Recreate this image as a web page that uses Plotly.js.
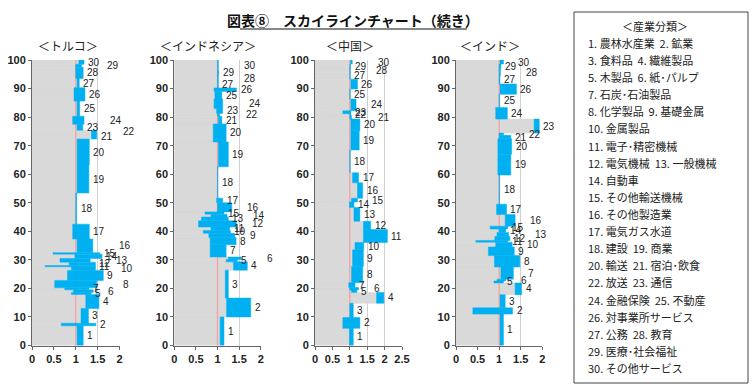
<!DOCTYPE html>
<html><head><meta charset="utf-8">
<script src="https://cdn.plot.ly/plotly-3.0.1.min.js"></script>
<style>html,body{margin:0;padding:0;background:#fff}#chart{width:756px;height:388px}</style>
</head><body><div id="chart"></div>
<script>
// ---- data ----
const industryNo = [1,2,3,4,5,6,7,8,9,10,11,12,13,14,15,16,17,18,19,20,21,22,23,24,25,26,27,28,29,30];
const panelTitles = ['＜トルコ＞','＜インドネシア＞','＜中国＞','＜インド＞'];
const chartTitle = '図表⑧　スカイラインチャート（続き）';

// share of domestic production (%), self-sufficiency ratio (gray end), 1 + export ratio (blue end)
const turkeyShare = [6.9,0.9,5.2,4.9,0.7,0.9,0.7,2.6,3.5,1.3,0.4,1.2,1.3,1.5,0.5,4.8,5.2,10.9,9.8,9.1,1.9,1.2,2.1,2.8,5.3,4.7,3.2,4.0,1.0,1.5];
const turkeySelf  = [1.03,0.67,1.12,1.23,0.90,0.95,0.75,0.52,0.81,0.90,0.30,0.85,0.64,0.98,0.48,1.03,0.93,1.00,1.03,1.03,1.36,1.36,1.03,0.93,1.03,0.96,1.03,1.00,1.00,1.07];
const turkeyGross = [1.17,1.46,1.29,1.53,1.35,1.40,1.30,1.48,1.63,1.45,1.45,1.45,1.33,1.60,1.55,1.39,1.31,1.02,1.30,1.31,1.48,1.48,1.16,1.19,1.09,1.21,1.08,1.17,1.13,1.19];

const indonesiaShare = [10,6.6,9.8,2.9,0.8,0.9,4.3,2.5,1.5,1.0,1.2,2.2,1.3,1.0,0.8,3.2,1.6,11,8.7,6.3,2.7,1.0,1.7,3.3,2.7,1.2,2.3,2.3,1.4,3.8];
const indonesiaSelf  = [1.06,1.21,1.18,1.37,1.20,1.25,0.83,0.83,0.80,0.67,0.85,0.56,0.63,0.85,0.71,1.00,0.98,1.00,1.02,0.90,1.02,1.00,0.98,0.92,0.94,0.92,1.00,1.00,1.00,1.00];
const indonesiaGross = [1.15,1.77,1.25,1.69,1.46,1.55,1.20,1.43,1.40,1.30,1.28,1.44,1.25,1.22,1.15,1.33,1.12,1.01,1.25,1.20,1.10,1.05,1.12,1.12,1.10,1.44,1.02,1.02,1.03,1.02];

const chinaShare = [6,3.8,5,3.8,0.8,0.9,1.7,5.7,5.8,2.6,4.5,2.9,4.8,2.0,1.3,5.4,3.5,8,6.7,4.1,1.2,0.7,1.0,4.1,3.5,3.5,2.2,1.7,1.4,1.4];
const chinaSelf  = [0.99,0.80,1.00,1.77,1.05,1.00,0.97,1.05,1.08,1.15,1.39,1.39,1.12,0.99,1.05,1.22,1.08,1.00,1.03,1.03,1.00,1.00,0.80,1.03,1.00,1.03,1.00,1.00,1.00,1.02];
const chinaGross = [1.10,1.29,1.10,1.98,1.20,1.25,1.15,1.37,1.39,1.40,2.08,1.60,1.29,1.12,1.22,1.37,1.25,1.01,1.27,1.29,1.05,1.03,1.03,1.18,1.01,1.22,1.01,1.01,1.02,1.07];

const indiaShare = [11,2.2,4.6,4.1,0.7,0.6,4.3,4.0,3.0,1.7,0.6,1.4,1.4,1.2,1.0,4.1,3.6,10.2,7.3,5.4,1.2,0.8,4.9,4.1,4.6,3.6,2.9,2.5,1.6,1.4];
const indiaSelf  = [1.02,0.39,1.02,1.37,0.88,0.95,1.04,0.89,0.75,0.92,0.46,0.90,0.95,1.00,0.79,1.14,0.94,1.00,0.97,0.97,1.00,1.00,1.81,0.92,1.00,1.02,1.00,1.00,1.00,1.02];
const indiaGross = [1.10,1.31,1.14,1.52,1.10,1.15,1.33,1.48,1.35,1.30,1.20,1.25,1.22,1.15,1.20,1.37,1.17,1.01,1.27,1.29,1.27,1.10,1.93,1.19,1.01,1.40,1.02,1.03,1.04,1.10];

const xMax = [2, 2, 2.5, 2];
const refRatio = 1;

const legendLines = [
 '1. 農林水産業  2. 鉱業','3. 食料品  4. 繊維製品','5. 木製品  6. 紙･パルプ','7. 石炭･石油製品',
 '8. 化学製品  9. 基礎金属','10. 金属製品','11. 電子･精密機械','12. 電気機械  13. 一般機械',
 '14. 自動車','15. その他輸送機械','16. その他製造業','17. 電気ガス水道','18. 建設  19. 商業',
 '20. 輸送  21. 宿泊･飲食','22. 放送  23. 通信','24. 金融保険  25. 不動産','26. 対事業所サービス',
 '27. 公務  28. 教育','29. 医療･社会福祉','30. その他サービス'];
const legendTitle = '＜産業分類＞';

// ---- layout helpers ----
const W = 756, H = 388;
const panels = [
  {share: turkeyShare, self: turkeySelf, gross: turkeyGross, px: [32, 119.5]},
  {share: indonesiaShare, self: indonesiaSelf, gross: indonesiaGross, px: [174.3, 260.7]},
  {share: chinaShare, self: chinaSelf, gross: chinaGross, px: [315, 402]},
  {share: indiaShare, self: indiaSelf, gross: indiaGross, px: [456, 542.3]}
];
const titleX = [68, 208, 350, 490];
const plotTopPx = 60, plotBotPx = 345.5;
const yDom = [1 - plotBotPx/H, 1 - plotTopPx/H];
const GRAY = '#d9d9d9', BLUE = '#00b0f0', RED = '#f3a3a3';
const numFont = 'Liberation Sans, Arial, sans-serif';
const jpFont = 'Noto Sans CJK JP, sans-serif';

const data = [];
const layout = {
  width: W, height: H, margin: {l:0, r:0, t:0, b:0},
  paper_bgcolor: '#fff', plot_bgcolor: '#fff',
  barmode: 'overlay', showlegend: false, hovermode: false,
  annotations: [], shapes: []
};

// pixel shift of each number label right of its bar, stepping right when labels would collide
function labelShifts(gross, centers, pxPerX, pxPerY) {
  const placed = [];
  return gross.map((g, k) => {
    const w = String(industryNo[k]).length * 5.6 + 2;
    const y = centers[k] * pxPerY;
    let chosen = 3;
    for (const off of [3, 14, 25]) {
      const x0 = g * pxPerX + off;
      const hit = placed.some(b => Math.abs(b.y - y) < 8 && x0 < b.x1 && x0 + w > b.x0);
      if (!hit) { chosen = off; break; }
    }
    placed.push({x0: g * pxPerX + chosen, x1: g * pxPerX + chosen + w, y: y});
    return chosen;
  });
}

panels.forEach((p, i) => {
  const sfx = i === 0 ? '' : String(i + 1);
  const xa = 'x' + sfx, ya = 'y' + sfx;
  let cum = 0;
  const centers = p.share.map(s => { const c = cum + s / 2; cum += s; return c; });
  const pxPerX = (p.px[1] - p.px[0]) / xMax[i];
  const pxPerY = (plotBotPx - plotTopPx) / 100;
  const pxUnit = 1 / pxPerX;
  data.push({type:'bar', orientation:'h', xaxis:xa, yaxis:ya, y:centers, x:p.self, base:0,
             width:p.share, marker:{color:GRAY, line:{width:0.6, color:GRAY}}});
  data.push({type:'bar', orientation:'h', xaxis:xa, yaxis:ya, y:[50], x:[pxUnit*1.3], base:[refRatio - pxUnit*0.65],
             width:[100], marker:{color:RED, line:{width:0}}});
  data.push({type:'bar', orientation:'h', xaxis:xa, yaxis:ya, y:centers,
             x:p.gross.map((g, k) => g - p.self[k]), base:p.self,
             width:p.share, marker:{color:BLUE, line:{width:0.5, color:BLUE}}});
  const shifts = labelShifts(p.gross, centers, pxPerX, pxPerY);
  industryNo.forEach((n, k) => {
    layout.annotations.push({xref:xa, yref:ya, x:p.gross[k], y:centers[k], xshift:shifts[k],
      text:String(n), showarrow:false, xanchor:'left', yanchor:'middle', borderpad:0,
      font:{family:numFont, size:10, color:'#222'}});
  });
  layout['xaxis' + sfx] = {
    domain:[p.px[0]/W, p.px[1]/W], anchor:ya, range:[0, xMax[i]], dtick:0.5,
    showgrid:true, gridcolor:'#d0d0d0', gridwidth:1, zeroline:false,
    showline:true, linecolor:'#666', linewidth:1, ticks:'outside', ticklen:3, tickcolor:'#666',
    tickfont:{family:numFont, size:11, color:'#222', weight:'bold'}, fixedrange:true
  };
  layout['yaxis' + sfx] = {
    domain:yDom, anchor:xa, range:[0, 100], dtick:10,
    showgrid:false, zeroline:false, showline:true, linecolor:'#666', linewidth:1,
    ticks:'outside', ticklen:3, tickcolor:'#666',
    tickfont:{family:numFont, size:11, color:'#222', weight:'bold'}, fixedrange:true
  };
  layout.annotations.push({xref:'paper', yref:'paper', x:titleX[i]/W, y:1 - 45/H,
    text:panelTitles[i], showarrow:false, xanchor:'center', yanchor:'middle',
    font:{family:jpFont, size:12, color:'#222'}});
});

// main title
layout.annotations.push({xref:'paper', yref:'paper', x:353/W, y:1 - 20/H, text:'<b>' + chartTitle + '</b>',
  showarrow:false, xanchor:'center', yanchor:'middle', font:{family:jpFont, size:14, color:'#111'}});
layout.shapes.push({type:'line', xref:'paper', yref:'paper', x0:240/W, x1:467/W, y0:1 - 29/H, y1:1 - 29/H,
  line:{color:'#111', width:1}});

// legend box
layout.shapes.push({type:'rect', xref:'paper', yref:'paper', x0:574/W, x1:748/W, y0:1 - 383/H, y1:1 - 12/H,
  line:{color:'#444', width:1}, fillcolor:'rgba(0,0,0,0)'});
layout.annotations.push({xref:'paper', yref:'paper', x:655/W, y:1 - 26/H, text:legendTitle, showarrow:false,
  xanchor:'center', yanchor:'middle', font:{family:jpFont, size:11, color:'#222'}});
legendLines.forEach((t, k) => {
  layout.annotations.push({xref:'paper', yref:'paper', x:586/W, y:1 - (43 + k * 17.1)/H, text:t,
    showarrow:false, xanchor:'left', yanchor:'middle', font:{family:jpFont, size:11, color:'#222'}});
});

Plotly.newPlot('chart', data, layout, {staticPlot:true, displayModeBar:false});
</script></body></html>
